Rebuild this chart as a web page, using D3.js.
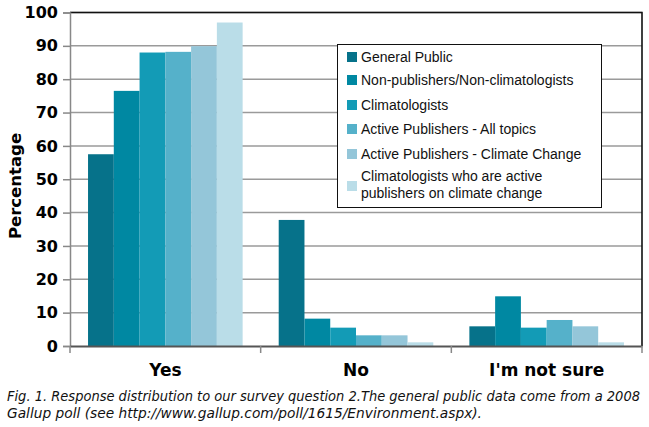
<!DOCTYPE html>
<html>
<head>
<meta charset="utf-8">
<script src="https://cdn.jsdelivr.net/npm/d3@7"></script>
<style>
body{margin:0;background:#fff;}
svg{display:block;font-family:"Liberation Sans",Arial,sans-serif;}
</style>
</head>
<body>
<svg width="649" height="427"></svg>
<script>
// survey answers and respondent groups
var categories = ["Yes", "No", "I'm not sure"];
var groups = ["General Public", "Non-publishers/Non-climatologists", "Climatologists",
	"Active Publishers - All topics", "Active Publishers - Climate Change",
	"Climatologists who are active publishers on climate change"];
var generalPublic = [57.5, 37.8, 5.9];
var nonPublishers = [76.5, 8.2, 14.9];
var climatologists = [88.0, 5.5, 5.5];
var activeAll = [88.2, 3.2, 7.8];
var activeClimate = [89.9, 3.2, 5.9];
var climActive = [97.0, 1.1, 1.1];
var yTicks = [0, 10, 20, 30, 40, 50, 60, 70, 80, 90, 100];
var colors = ["#06728a", "#0088a2", "#139bb6", "#55b1ca", "#94c6d9", "#badde8"];

var series = [generalPublic, nonPublishers, climatologists, activeAll, activeClimate, climActive];

var svg = d3.select("svg");
var pLeft = 70, pRight = 642, pTop = 12.5, pBottom = 346;
var boldFont = "DejaVu Sans, sans-serif";

var x = d3.scaleBand().domain(categories).range([pLeft, pRight]);
var xs = d3.scaleBand().domain(d3.range(groups.length)).range([0, x.bandwidth()]).paddingOuter(0.7);
var y = d3.scaleLinear().domain([0, 100]).range([pBottom, pTop]);

// gridlines
svg.append("g").selectAll("line")
	.data(yTicks.filter(function(d){ return d > 0; }))
	.enter().append("line")
	.attr("x1", pLeft).attr("x2", pRight)
	.attr("y1", function(d){ return y(d); })
	.attr("y2", function(d){ return y(d); })
	.attr("stroke", "#9a9a9a").attr("stroke-width", 1.5);

// bars
series.forEach(function(vals, i){
	svg.append("g").selectAll("rect")
		.data(vals)
		.enter().append("rect")
		.attr("x", function(d, j){ return x(categories[j]) + xs(i); })
		.attr("width", xs.bandwidth())
		.attr("y", function(d){ return y(d); })
		.attr("height", function(d){ return y(0) - y(d); })
		.attr("fill", colors[i]);
});

// frame top/right
svg.append("path")
	.attr("d", "M" + pLeft + "," + pTop + "H" + pRight + "V" + pBottom)
	.attr("fill", "none").attr("stroke", "#111").attr("stroke-width", 1.6);

// y axis
var yAxis = svg.append("g")
	.attr("transform", "translate(" + pLeft + ",0)")
	.call(d3.axisLeft(y).tickValues(yTicks).tickSize(7).tickPadding(5));
yAxis.select(".domain").attr("stroke", "#888").attr("stroke-width", 1.5);
yAxis.selectAll(".tick line").attr("stroke", "#888").attr("stroke-width", 1.5);
yAxis.selectAll("text")
	.attr("font-family", boldFont)
	.attr("font-size", 16).attr("font-weight", "bold").attr("fill", "#000");

// x axis
var xAxis = svg.append("g")
	.attr("transform", "translate(0," + pBottom + ")")
	.call(d3.axisBottom(x).tickSize(0).tickPadding(18));
xAxis.select(".domain").attr("stroke", "#555").attr("stroke-width", 2);
xAxis.selectAll("text")
	.attr("font-family", boldFont)
	.attr("font-size", 17).attr("font-weight", "bold").attr("fill", "#000");
svg.append("g").selectAll("line")
	.data(d3.range(categories.length + 1))
	.enter().append("line")
	.attr("x1", function(d){ return pLeft + d * x.step(); })
	.attr("x2", function(d){ return pLeft + d * x.step(); })
	.attr("y1", pBottom).attr("y2", pBottom + 7)
	.attr("stroke", "#888").attr("stroke-width", 1.5);

// y label
svg.append("text")
	.attr("transform", "translate(21,186) rotate(-90)")
	.attr("text-anchor", "middle")
	.attr("font-family", boldFont)
	.attr("font-size", 16.5).attr("font-weight", "bold")
	.text("Percentage");

// legend
var lg = svg.append("g");
lg.append("rect")
	.attr("x", 337.5).attr("y", 44.5).attr("width", 264).attr("height", 163)
	.attr("fill", "#fff").attr("stroke", "#111").attr("stroke-width", 1);
var rowY = [57, 80, 105, 129, 154, 186];
groups.forEach(function(g, i){
	lg.append("rect")
		.attr("x", 347).attr("y", rowY[i] - 5).attr("width", 10).attr("height", 10)
		.attr("fill", colors[i]);
	var t = lg.append("text")
		.attr("x", 361)
		.attr("font-size", 14).attr("fill", "#111");
	if (i < 5) {
		t.attr("y", rowY[i] + 5).text(g);
	} else {
		t.append("tspan").attr("x", 361).attr("y", 181).text("Climatologists who are active");
		t.append("tspan").attr("x", 361).attr("y", 198).text("publishers on climate change");
	}
});

// caption
var cap = svg.append("text")
	.attr("font-family", "Liberation Sans Narrow, DejaVu Sans Condensed, sans-serif")
	.attr("font-style", "italic").attr("font-size", 14).attr("fill", "#111");
cap.append("tspan").attr("x", 7).attr("y", 401)
	.attr("textLength", 633).attr("lengthAdjust", "spacingAndGlyphs")
	.text("Fig. 1. Response distribution to our survey question 2.The general public data come from a 2008");
cap.append("tspan").attr("x", 7).attr("y", 418)
	.attr("textLength", 475).attr("lengthAdjust", "spacingAndGlyphs")
	.text("Gallup poll (see http://www.gallup.com/poll/1615/Environment.aspx).");
</script>
</body>
</html>
